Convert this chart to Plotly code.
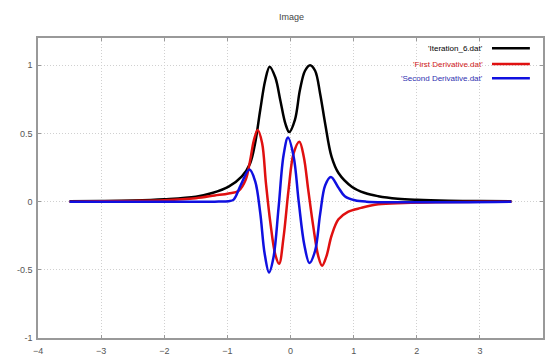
import plotly.graph_objects as go

# ---- data ----
black_x = [-3.5, -3.0, -2.5, -2.0, -1.5, -1.24, -0.98, -0.77, -0.64, -0.56, -0.48, -0.40, -0.33,
           -0.24, -0.16, -0.08, -0.02, 0.07, 0.15, 0.23, 0.31, 0.39, 0.47, 0.55, 0.65, 0.76,
           0.97, 1.18, 1.39, 1.7, 2.0, 2.5, 3.0, 3.5]
black_y = [0.003, 0.005, 0.009, 0.018, 0.036, 0.063, 0.11, 0.185, 0.28, 0.43, 0.67, 0.89, 0.99,
           0.91, 0.74, 0.57, 0.51, 0.60, 0.82, 0.96, 1.0, 0.96, 0.79, 0.57, 0.33, 0.21,
           0.11, 0.063, 0.04, 0.022, 0.014, 0.007, 0.004, 0.003]

red_x = [-3.5, -3.0, -2.5, -2.0, -1.5, -1.2, -0.98, -0.82, -0.71, -0.64, -0.58, -0.52, -0.45,
         -0.39, -0.32, -0.24, -0.18, -0.11, -0.03, 0.05, 0.14, 0.21, 0.28, 0.36, 0.44, 0.50,
         0.57, 0.65, 0.76, 0.91, 1.12, 1.39, 1.8, 2.3, 3.0, 3.5]
red_y = [0.0, 0.002, 0.005, 0.01, 0.025, 0.045, 0.06, 0.08, 0.16, 0.30, 0.45, 0.525, 0.43,
         0.14, -0.15, -0.39, -0.455, -0.26, 0.09, 0.355, 0.44, 0.33, 0.09, -0.18, -0.40, -0.47,
         -0.40, -0.25, -0.13, -0.075, -0.046, -0.02, -0.01, -0.004, -0.001, 0.0]

blue_x = [-3.5, -1.2, -0.98, -0.90, -0.79, -0.65, -0.56, -0.48, -0.41, -0.34, -0.27, -0.19,
          -0.11, -0.04, 0.05, 0.13, 0.22, 0.30, 0.39, 0.47, 0.55, 0.64, 0.75, 0.86, 1.02, 1.2, 3.5]
blue_y = [0.0, 0.0, 0.003, 0.015, 0.12, 0.235, 0.15, -0.08, -0.38, -0.52, -0.41, -0.05,
          0.34, 0.47, 0.33, 0.0, -0.32, -0.45, -0.36, -0.09, 0.12, 0.18, 0.11, 0.04, 0.01, 0.0, 0.0]

series_names = ["'Iteration_6.dat'", "'First Derivative.dat'", "'Second Derivative.dat'"]
line_colors = ["#000000", "#e01010", "#1010e0"]
text_colors = ["#000000", "#d02020", "#3030b0"]
x_ticks = [-4, -3, -2, -1, 0, 1, 2, 3, 4]
y_ticks = [-1, -0.5, 0, 0.5, 1]
y_tick_text = ["-1", "-0.5", "0", "0.5", "1"]

fig = go.Figure()
for xs, ys, c in [(black_x, black_y, line_colors[0]), (red_x, red_y, line_colors[1]),
                  (blue_x, blue_y, line_colors[2])]:
    fig.add_trace(go.Scatter(x=xs, y=ys, mode="lines",
                             line=dict(color=c, width=2.5, shape="spline", smoothing=1),
                             showlegend=False, hoverinfo="skip"))

# legend drawn manually (text left of line sample, like the original)
rows_y = [0.966, 0.913, 0.866]
for name, lc, tc, ry in zip(series_names, line_colors, text_colors, rows_y):
    fig.add_annotation(xref="paper", yref="paper", x=0.886, y=ry, text=name, showarrow=False,
                       xanchor="right", yanchor="middle",
                       font=dict(family="Liberation Sans, Arial", size=8, color=tc))
    fig.add_shape(type="line", xref="paper", yref="paper", x0=0.899, x1=0.974, y0=ry, y1=ry,
                  line=dict(color=lc, width=2.5))

axis_common = dict(showline=True, mirror="all", linecolor="#999999", linewidth=1.5,
                   ticks="inside", ticklen=3, tickcolor="#999999",
                   showgrid=True, gridcolor="#d0d0d0", griddash="1px,2px", gridwidth=1,
                   zeroline=False,
                   tickfont=dict(family="Liberation Sans, Arial", size=9, color="#555555"))

fig.update_layout(
    width=545, height=356,
    margin=dict(l=38, r=0, t=38, b=17),
    paper_bgcolor="white", plot_bgcolor="white",
    title=dict(text="Image", x=0.535, xanchor="center", y=0.953, yanchor="middle",
               font=dict(family="Liberation Sans, Arial", size=9, color="#444444")),
    xaxis=dict(range=[-4, 4], tickvals=x_ticks, ticklabelstandoff=3, **axis_common),
    yaxis=dict(range=[-1, 1.2], tickvals=y_ticks, ticktext=y_tick_text, ticklabelstandoff=2,
               **axis_common),
)

fig.write_html("out.html")
